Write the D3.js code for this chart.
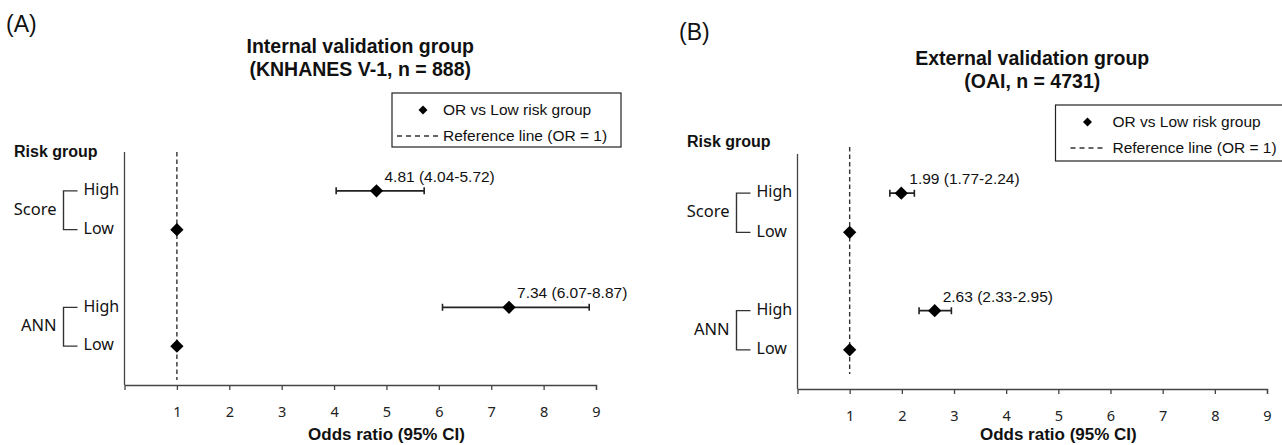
<!DOCTYPE html>
<html lang="en">
<head>
  <meta charset="UTF-8">
  <title>Odds ratio by risk group</title>
  <script src="https://d3js.org/d3.v7.min.js"></script>
  <style>
    body {
      margin: 0;
      background: #fff;
    }
    svg {
      display: block;
      font-family: "Liberation Sans", Arial, sans-serif;
    }
    .axis path, .axis line {
      stroke: #444;
      stroke-width: 1.3;
    }
    .axis text {
      font-family: "Noto Sans", sans-serif;
      font-size: 14.5px;
      fill: #222;
    }
    .side {
      font-family: "Noto Sans", sans-serif;
      fill: #111;
    }
  </style>
</head>
<body>
  <svg width="1282" height="445"></svg>

  <script>
    // rows, top to bottom; "" is the empty slot between the two models
    const rowKeys = ["Score High", "Score Low", "", "ANN High", "ANN Low"];
    const rowLevels = ["High", "Low", "High", "Low"];
    const rowGroups = ["Score", "Score", "ANN", "ANN"];
    const groupNames = ["Score", "ANN"];

    // internal validation (KNHANES V-1)
    const orInternal = [4.81, 1, 7.34, 1];
    const lowInternal = [4.04, null, 6.07, null];
    const highInternal = [5.72, null, 8.87, null];

    // external validation (OAI)
    const orExternal = [1.99, 1, 2.63, 1];
    const lowExternal = [1.77, null, 2.33, null];
    const highExternal = [2.24, null, 2.95, null];

    const xTicks = [1, 2, 3, 4, 5, 6, 7, 8, 9];
    const legendLabels = ["OR vs Low risk group", "Reference line (OR = 1)"];

    const panels = [
      {
        tag: "(A)", tagX: 6, tagY: 32,
        title: ["Internal validation group", "(KNHANES V-1, n = 888)"], titleY: 53,
        or: orInternal, lo: lowInternal, hi: highInternal,
        x0: 124.5, x1: 596, yTop: 152, yBottom: 385,
        refTop: 152, refBottom: 380, riskY: 157,
        legend: {x: 392, y: 93, w: 229, h: 54, sym: 31, dash: [5, 46], text: 51}
      },
      {
        tag: "(B)", tagX: 679, tagY: 40,
        title: ["External validation group", "(OAI, n = 4731)"], titleY: 65,
        or: orExternal, lo: lowExternal, hi: highExternal,
        x0: 797.5, x1: 1267, yTop: 154, yBottom: 389,
        refTop: 147, refBottom: 374, riskY: 147,
        legend: {x: 1055.5, y: 105, w: 232, h: 56, sym: 32, dash: [15, 47], text: 57}
      }
    ];

    const svg = d3.select("svg");
    const fmt = d3.format(".2f");
    const diamond = size => d3.symbol().type(d3.symbolSquare).size(size)();

    panels.forEach(p => {
      const x = d3.scaleLinear().domain([0, 9]).range([p.x0, p.x1]);
      const y = d3.scalePoint().domain(rowKeys).range([p.yTop, p.yBottom]).padding(1);
      const rows = rowKeys.filter(k => k !== "");

      const g = svg.append("g");

      // panel tag and title
      g.append("text")
        .attr("x", p.tagX).attr("y", p.tagY)
        .attr("font-size", 23).attr("fill", "#111")
        .text(p.tag);

      g.append("text")
        .attr("x", (p.x0 + p.x1) / 2).attr("y", p.titleY)
        .attr("text-anchor", "middle")
        .attr("font-size", 19.5).attr("font-weight", "bold").attr("fill", "#111")
        .selectAll("tspan")
        .data(p.title)
        .join("tspan")
        .attr("x", (p.x0 + p.x1) / 2)
        .attr("dy", (d, i) => i === 0 ? 0 : 23)
        .text(d => d);

      // axes
      g.append("g")
        .attr("class", "axis")
        .attr("transform", `translate(0,${p.yBottom})`)
        .call(d3.axisBottom(x).tickValues(xTicks).tickSize(5).tickSizeOuter(5).tickPadding(17));

      g.append("line")
        .attr("x1", x(0)).attr("x2", x(0))
        .attr("y1", p.yTop).attr("y2", p.yBottom)
        .attr("stroke", "#444").attr("stroke-width", 1.3);

      g.append("text")
        .attr("x", x(5)).attr("y", 440)
        .attr("text-anchor", "middle")
        .attr("font-size", 17).attr("font-weight", "bold").attr("fill", "#111")
        .text("Odds ratio (95% CI)");

      // reference line at OR = 1
      g.append("line")
        .attr("x1", x(1)).attr("x2", x(1))
        .attr("y1", p.refTop).attr("y2", p.refBottom)
        .attr("stroke", "#333").attr("stroke-width", 1.4)
        .attr("stroke-dasharray", "4.5,3");

      // row labels and brackets
      g.append("text")
        .attr("x", x(0) - 110.5).attr("y", p.riskY)
        .attr("font-size", 16).attr("font-weight", "bold").attr("fill", "#111")
        .text("Risk group");

      const bx = x(0) - 61;
      groupNames.forEach(name => {
        const keys = rows.filter((k, i) => rowGroups[i] === name);
        const yA = y(keys[0]), yB = y(keys[keys.length - 1]);
        g.append("path")
          .attr("d", `M${bx + 14},${yA}H${bx}V${yB}H${bx + 14}`)
          .attr("fill", "none").attr("stroke", "#333").attr("stroke-width", 1.4);
        g.append("text")
          .attr("class", "side")
          .attr("x", x(0) - 68).attr("y", (yA + yB) / 2)
          .attr("text-anchor", "end").attr("dominant-baseline", "middle")
          .attr("font-size", 16.5)
          .text(name);
      });

      g.selectAll(".level")
        .data(rows)
        .join("text")
        .attr("class", "side")
        .attr("x", x(0) - 41)
        .attr("y", d => y(d))
        .attr("dominant-baseline", "middle")
        .attr("font-size", 16)
        .text((d, i) => rowLevels[i]);

      // error bars
      const bars = rows.map((k, i) => ({key: k, or: p.or[i], lo: p.lo[i], hi: p.hi[i]}));
      const withCi = bars.filter(d => d.lo !== null);

      g.selectAll(".ci")
        .data(withCi)
        .join("path")
        .attr("d", d => `M${x(d.lo)},${y(d.key)}H${x(d.hi)}` +
          `M${x(d.lo)},${y(d.key) - 3.5}v7M${x(d.hi)},${y(d.key) - 3.5}v7`)
        .attr("fill", "none").attr("stroke", "#222").attr("stroke-width", 1.6);

      g.selectAll(".pt")
        .data(bars)
        .join("path")
        .attr("d", diamond(88))
        .attr("transform", d => `translate(${x(d.or)},${y(d.key)}) rotate(45)`)
        .attr("fill", "#000");

      g.selectAll(".val")
        .data(withCi)
        .join("text")
        .attr("x", d => x(d.or) + 8)
        .attr("y", d => y(d.key) - 9)
        .attr("font-size", 15.5).attr("fill", "#111")
        .text(d => `${fmt(d.or)} (${fmt(d.lo)}-${fmt(d.hi)})`);

      // legend
      const L = p.legend;
      const lg = g.append("g").attr("transform", `translate(${L.x},${L.y})`);
      lg.append("rect")
        .attr("width", L.w).attr("height", L.h)
        .attr("fill", "#fff").attr("stroke", "#222").attr("stroke-width", 1.2);
      lg.append("path")
        .attr("d", diamond(40))
        .attr("transform", `translate(${L.sym},17) rotate(45)`)
        .attr("fill", "#000");
      lg.append("line")
        .attr("x1", L.dash[0]).attr("x2", L.dash[1])
        .attr("y1", 43).attr("y2", 43)
        .attr("stroke", "#333").attr("stroke-width", 1.3)
        .attr("stroke-dasharray", "5,4");
      lg.selectAll("text")
        .data(legendLabels)
        .join("text")
        .attr("x", L.text)
        .attr("y", (d, i) => i === 0 ? 22 : 48)
        .attr("font-size", 15.5).attr("fill", "#111")
        .text(d => d);
    });
  </script>
</body>
</html>
